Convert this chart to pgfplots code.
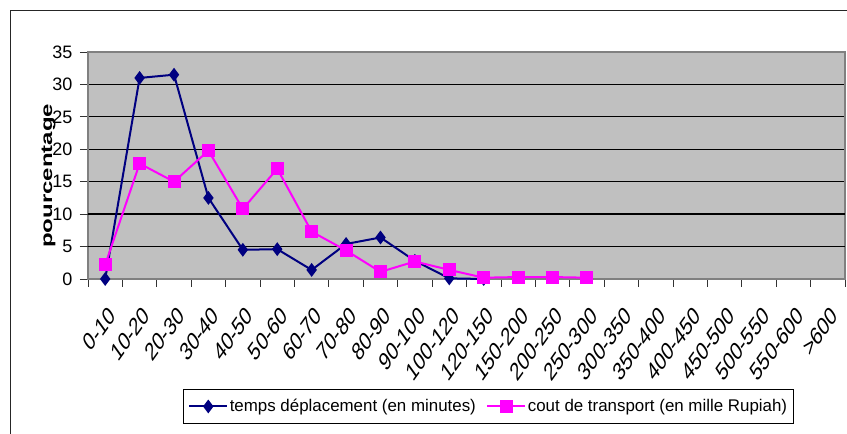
\documentclass[border=0pt]{standalone}
\usepackage{fontspec}
\setmainfont{Liberation Sans}
\usepackage{pgfplots}
\pgfplotsset{compat=1.18}
\definecolor{navyline}{RGB}{0,0,128}
\definecolor{pinkline}{RGB}{255,0,255}
\definecolor{plotgray}{RGB}{192,192,192}
\definecolor{bordergray}{RGB}{128,128,128}

\begin{document}
\begin{tikzpicture}[x=1pt,y=1pt]
\useasboundingbox (0,0) rectangle (847,434);
% frame of the chart area
\draw[line width=1pt, black!85] (10,-5) -- (10,423) -- (852,423);
\begin{axis}[
    at={(88pt,155pt)}, anchor=south west,
    width=757pt, height=227pt, scale only axis,
    xmin=-0.5, xmax=21.5, ymin=0, ymax=35,
    clip=false,
    axis background/.style={fill=plotgray},
    axis line style={bordergray, line width=1.6pt},
    tick align=outside,
    xtick pos=bottom, ytick pos=left,
    major tick length=8pt,
    tick style={black!80, line width=0.8pt},
    xtick={-0.5,0.5,...,21.5},
    xticklabels={},
    extra x ticks={0,1,...,21},
    extra x tick labels={0-10,10-20,20-30,30-40,40-50,50-60,60-70,70-80,80-90,90-100,100-120,120-150,150-200,200-250,250-300,300-350,350-400,400-450,450-500,500-550,550-600,>600},
    extra x tick style={major tick length=0pt},
    xticklabel style={anchor=east, inner sep=0pt, xshift=7pt, yshift=-32pt, yscale=1.4, rotate=45},
    ytick={0,5,...,35},
    yticklabel style={xshift=-4pt},
    ymajorgrids=true,
    major grid style={black, line width=1pt},
    extra y ticks={5,10},
    extra y tick labels={},
    extra y tick style={grid=major, major grid style={black, line width=1.8pt}},
    tick label style={font=\fontsize{18}{18}\selectfont},
    /pgf/number format/assume math mode=true,
    ylabel={pourcentage},
    ylabel style={at={(axis description cs:-0.052,0.455)}, anchor=center,
        font=\fontsize{16}{16}\selectfont\bfseries, xscale=1.5},
    legend columns=2,
    legend style={at={(axis description cs:0.529,-0.4846)}, anchor=north,
        draw=black, line width=1pt, inner xsep=5pt, inner ysep=8pt,
        font=\fontsize{16.9}{16.9}\selectfont,
        nodes={inner xsep=1.5pt},
        /tikz/every even column/.append style={column sep=9pt}},
    legend image code/.code={
        \draw[mark repeat=2, mark phase=2, #1] plot coordinates {(0pt,0pt) (19pt,0pt) (38pt,0pt)};
    },
]
\addplot[color=navyline, line width=2pt, mark=diamond*,
    mark options={solid, fill=navyline, mark size=5.3pt}]
coordinates {
    (0,0) (1,31.0) (2,31.5) (3,12.5) (4,4.5) (5,4.6)
    (6,1.4) (7,5.4) (8,6.4) (9,2.8) (10,0.1) (11,0)
};
\addlegendentry{temps déplacement (en minutes)}
\addplot[color=pinkline, line width=2pt, mark=square*,
    mark options={solid, fill=pinkline, mark size=5.5pt}]
coordinates {
    (0,2.2) (1,17.8) (2,15.0) (3,19.8) (4,10.8) (5,17.0)
    (6,7.3) (7,4.4) (8,1.1) (9,2.7) (10,1.4) (11,0.2)
    (12,0.3) (13,0.3) (14,0.2)
};
\addlegendentry{cout de transport (en mille Rupiah)}
\end{axis}
\end{tikzpicture}
\end{document}
